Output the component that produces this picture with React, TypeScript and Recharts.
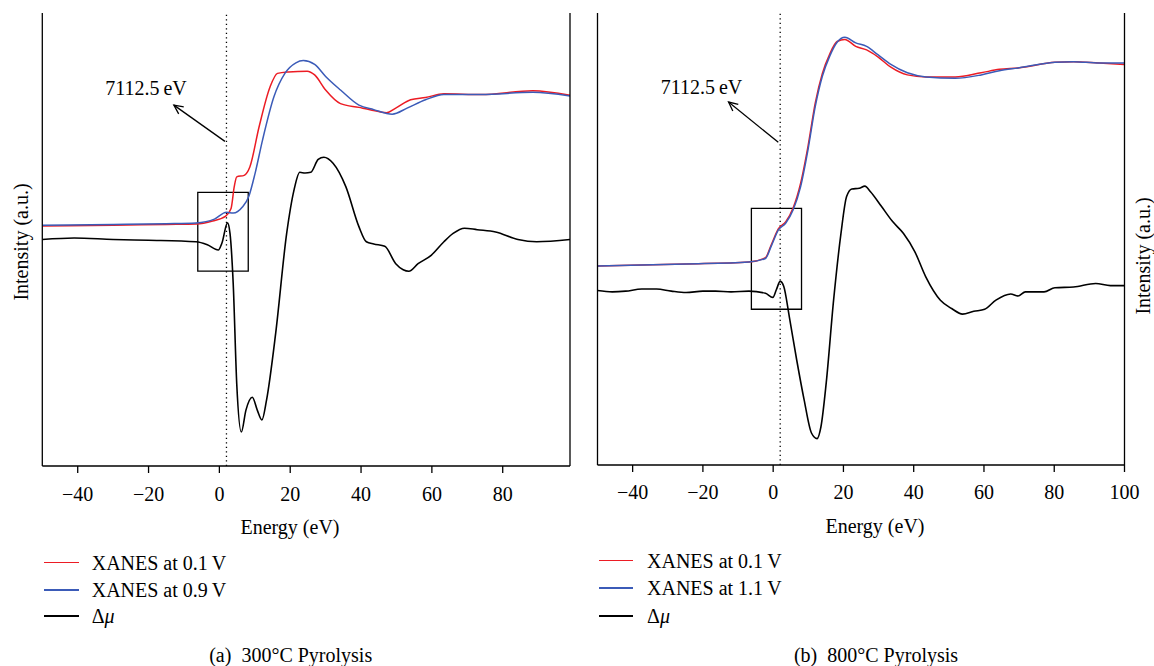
import React from "react"
import { LineChart, Line, XAxis, YAxis, ReferenceLine, ReferenceArea } from "recharts"

// (a) 300 °C pyrolysis
const aRedE = [-50, -30, -15, -6.6, -1.9, 1.8, 3.3, 4.2, 4.9, 7, 8.6, 11.2, 14.3, 16.4, 19.5, 24.8, 26.9, 30, 34.2, 39.4, 42.5, 47.2, 49.8, 54, 58.2, 63.4, 73.9, 88.5, 99]
const aRed = [3.18, 3.19, 3.2, 3.205, 3.245, 3.31, 3.41, 3.7, 3.83, 3.85, 3.96, 4.49, 5.02, 5.2, 5.22, 5.23, 5.18, 4.98, 4.8, 4.75, 4.72, 4.68, 4.74, 4.85, 4.88, 4.93, 4.92, 4.97, 4.91]
const aBlueE = [-50, -30, -15, -6.6, -1.4, 2, 3.9, 6.5, 8.3, 10.1, 12.2, 15.4, 18.5, 21.6, 23.7, 26.9, 30, 34.2, 39.4, 43.6, 48.8, 53, 58.2, 63.4, 73.9, 88.5, 99]
const aBlue = [3.19, 3.2, 3.21, 3.22, 3.27, 3.36, 3.35, 3.43, 3.57, 3.88, 4.32, 4.89, 5.2, 5.34, 5.37, 5.32, 5.16, 4.98, 4.78, 4.72, 4.66, 4.74, 4.85, 4.92, 4.92, 4.95, 4.9]
const aDiffE = [-50, -41, -30, -20, -6.6, -3.4, -0.3, 0.7, 2.3, 3, 3.9, 4.9, 6.2, 7.5, 9.3, 10.7, 12, 13.3, 15.9, 19, 21.1, 22.7, 24.2, 25.8, 27.9, 29.5, 32.1, 35.7, 39.4, 41.5, 43.6, 46.7, 49.8, 51.9, 53.5, 56.1, 59.8, 63.4, 66, 69.2, 72.8, 78, 84.3, 89.6, 99]
const aDiff = [3.0, 3.02, 3.0, 2.99, 2.97, 2.93, 2.86, 2.95, 3.22, 3.08, 2.42, 1.09, 0.45, 0.74, 0.91, 0.74, 0.61, 0.87, 1.76, 3.08, 3.66, 3.89, 3.88, 3.89, 4.06, 4.09, 4.01, 3.7, 3.17, 2.97, 2.94, 2.91, 2.68, 2.6, 2.58, 2.68, 2.79, 2.97, 3.08, 3.15, 3.13, 3.1, 3.0, 2.97, 3.0]

// (b) 800 °C pyrolysis
const bXanesE = [-50, -24.8, -6.9, -2.2, -0.6, 1.5, 3.6, 5.7, 7.8, 9.9, 12, 14, 16.1, 18.2, 20.4, 23.5, 26.6, 29.8, 33.5, 38.2, 43.5, 51.8, 59.2, 64.4, 69.7, 80.2, 85.5, 92.8, 100]
const bRed = [2.86, 2.89, 2.92, 2.98, 3.16, 3.4, 3.5, 3.7, 4.05, 4.58, 5.21, 5.63, 5.91, 6.09, 6.12, 6.02, 5.97, 5.87, 5.72, 5.61, 5.58, 5.58, 5.64, 5.69, 5.71, 5.79, 5.8, 5.78, 5.76]
const bBlue = [2.86, 2.89, 2.92, 2.97, 3.14, 3.38, 3.48, 3.67, 4.0, 4.53, 5.16, 5.59, 5.88, 6.08, 6.15, 6.07, 6.02, 5.9, 5.76, 5.64, 5.58, 5.56, 5.61, 5.67, 5.71, 5.79, 5.8, 5.78, 5.78]
const bDiffE = [-50, -45.8, -42, -37.4, -33.2, -29, -24.8, -20, -16.4, -12, -6.9, -2.2, -0.1, 0.9, 2, 3, 4.6, 6.7, 8.8, 10.9, 12.5, 13.6, 15.1, 17.2, 19.3, 20.9, 22.4, 24.5, 26.1, 27.7, 30.8, 34, 37.1, 40.3, 43.4, 47.6, 50.8, 53.9, 57.1, 60.2, 63.4, 67.6, 69.7, 71.8, 77.1, 80.2, 85.5, 91.8, 96, 100]
const bDiff = [2.51, 2.49, 2.5, 2.53, 2.53, 2.5, 2.48, 2.5, 2.5, 2.49, 2.5, 2.47, 2.41, 2.52, 2.64, 2.57, 2.13, 1.51, 0.94, 0.46, 0.38, 0.55, 1.18, 2.37, 3.33, 3.86, 3.97, 3.98, 4.01, 3.93, 3.72, 3.5, 3.33, 3.07, 2.71, 2.37, 2.25, 2.17, 2.21, 2.24, 2.37, 2.46, 2.43, 2.49, 2.49, 2.55, 2.56, 2.61, 2.58, 2.58]

const xTicksA = [-40, -20, 0, 20, 40, 60, 80]
const xTicksB = [-40, -20, 0, 20, 40, 60, 80, 100]
const yTicksA = [1, 2, 3, 4, 5]
const yTicksB = [0.5, 1.5, 2.5, 3.5, 4.5, 5.5]

const RED = "#ec1c24"
const BLUE = "#3b5bb8"
const FONT = '"Liberation Serif", "DejaVu Serif", serif'

const zip = (xs: number[], ys: number[]) => xs.map((x, i) => ({ x, y: ys[i] }))
const fmt = (v: number) => (v < 0 ? `\u2212${Math.abs(v)}` : `${v}`)

const Arrow = (p: any) => {
  const { x1, y1, x2, y2 } = p
  const a = Math.atan2(y2 - y1, x2 - x1)
  const L = 10
  const h1 = [x2 - L * Math.cos(a - 0.45), y2 - L * Math.sin(a - 0.45)]
  const h2 = [x2 - L * Math.cos(a + 0.45), y2 - L * Math.sin(a + 0.45)]
  return (
    <g stroke="#000" strokeWidth={1.3} fill="none">
      <line x1={x1} y1={y1} x2={x2} y2={y2} />
      <polyline points={`${h1[0]},${h1[1]} ${x2},${y2} ${h2[0]},${h2[1]}`} />
    </g>
  )
}

type PanelProps = {
  left: number
  width: number
  margin: { top: number; right: number; bottom: number; left: number }
  xDomain: [number, number]
  xTicks: number[]
  yDomain: [number, number]
  yTicks: number[]
  tickMargin: number
  red: { x: number; y: number }[]
  blue: { x: number; y: number }[]
  diff: { x: number; y: number }[]
  box: [number, number, number, number]
  arrow: [number, number, number, number]
}

function Panel(p: PanelProps) {
  const tickStyle = { fontFamily: FONT, fontSize: 20, fill: "#000" }
  return (
    <div style={{ position: "absolute", left: p.left, top: 0 }}>
      <LineChart width={p.width} height={520} margin={p.margin}>
        <XAxis type="number" dataKey="x" domain={p.xDomain} ticks={p.xTicks} allowDataOverflow
          tickFormatter={fmt} tick={tickStyle} tickSize={7} tickMargin={p.tickMargin} height={40}
          stroke="#000" axisLine={{ stroke: "#000", strokeWidth: 1.3 }} tickLine={{ stroke: "#000", strokeWidth: 1.3 }} />
        <XAxis xAxisId="top" orientation="top" type="number" domain={p.xDomain} allowDataOverflow height={0}
          tick={false} tickLine={false} axisLine={{ stroke: "#000", strokeWidth: 1.3 }} />
        <YAxis type="number" domain={p.yDomain} ticks={p.yTicks} allowDataOverflow mirror tick={false} tickSize={7}
          axisLine={{ stroke: "#000", strokeWidth: 1.3 }} tickLine={{ stroke: "#000", strokeWidth: 1.3 }} />
        <YAxis yAxisId="r" orientation="right" type="number" domain={p.yDomain} ticks={p.yTicks} allowDataOverflow mirror
          tick={false} tickSize={7} axisLine={{ stroke: "#000", strokeWidth: 1.3 }} tickLine={{ stroke: "#000", strokeWidth: 1.3 }} />
        <ReferenceLine x={2} stroke="#000" strokeWidth={1.3} strokeDasharray="1.3 3.2" />
        <ReferenceArea x1={p.box[0]} x2={p.box[1]} y1={p.box[2]} y2={p.box[3]} fill="none" fillOpacity={0} stroke="#000" strokeWidth={1.3} />
        <ReferenceLine segment={[{ x: p.arrow[0], y: p.arrow[1] }, { x: p.arrow[2], y: p.arrow[3] }]} shape={Arrow} />
        <Line data={p.diff} dataKey="y" type="monotone" stroke="#000" strokeWidth={1.6} dot={false} isAnimationActive={false} />
        <Line data={p.red} dataKey="y" type="monotone" stroke={RED} strokeWidth={1.5} dot={false} isAnimationActive={false} />
        <Line data={p.blue} dataKey="y" type="monotone" stroke={BLUE} strokeWidth={1.5} dot={false} isAnimationActive={false} />
      </LineChart>
    </div>
  )
}

const Txt = ({ x, y, children, rotate }: { x: number; y: number; children: React.ReactNode; rotate?: boolean }) => (
  <div style={{ position: "absolute", left: x, top: y, transform: `translate(-50%, -50%)${rotate ? " rotate(-90deg)" : ""}`,
    whiteSpace: "nowrap", lineHeight: 1, fontFamily: FONT, fontSize: 20, color: "#000" }}>
    {children}
  </div>
)

const Legend = ({ x0, x1, tx, rows, labels }: { x0: number; x1: number; tx: number; rows: number[]; labels: React.ReactNode[] }) => {
  const colors = [RED, BLUE, "#000"]
  return (
    <>
      {labels.map((l, i) => (
        <React.Fragment key={i}>
          <div style={{ position: "absolute", left: x0, top: rows[i] - 1, width: x1 - x0, height: 1.6, background: colors[i] }} />
          <div style={{ position: "absolute", left: tx, top: rows[i], transform: "translateY(-50%)", whiteSpace: "nowrap",
            lineHeight: 1, fontFamily: FONT, fontSize: 20, color: "#000" }}>{l}</div>
        </React.Fragment>
      ))}
    </>
  )
}

const mu = <span>Δ<i>μ</i></span>

export default function App() {
  return (
    <div style={{ position: "absolute", left: 0, top: 0, width: 1154, height: 666, background: "#fff", overflow: "hidden" }}>
      <Panel left={0} width={580} margin={{ top: 13, right: 10, bottom: 14, left: 42.3 }}
        xDomain={[-50, 99]} xTicks={xTicksA} yDomain={[0, 6]} yTicks={yTicksA} tickMargin={14}
        red={zip(aRedE, aRed)} blue={zip(aBlueE, aBlue)} diff={zip(aDiffE, aDiff)}
        box={[-6.1, 8.15, 2.58, 3.625]} arrow={[1.57, 4.3, -12.85, 4.78]} />
      <Panel left={555} width={590} margin={{ top: 13, right: 20.5, bottom: 15, left: 42.5 }}
        xDomain={[-50, 100]} xTicks={xTicksB} yDomain={[0, 6.5]} yTicks={yTicksB} tickMargin={13}
        red={zip(bXanesE, bRed)} blue={zip(bXanesE, bBlue)} diff={zip(bDiffE, bDiff)}
        box={[-6.2, 8.07, 2.24, 3.69]} arrow={[1.46, 4.64, -12.7, 5.22]} />

      <Txt x={146} y={88}>7112.5{"\u2009"}eV</Txt>
      <Txt x={701.5} y={87}>7112.5{"\u2009"}eV</Txt>

      <Txt x={21} y={242} rotate>Intensity (a.u.)</Txt>
      <Txt x={1142.5} y={256} rotate>Intensity (a.u.)</Txt>

      <Txt x={290} y={527}>Energy (eV)</Txt>
      <Txt x={875} y={526}>Energy (eV)</Txt>

      <Legend x0={44.4} x1={78.8} tx={91.7} rows={[562.7, 590, 616]}
        labels={[<>XANES at 0.1{"\u2009"}V</>, <>XANES at 0.9{"\u2009"}V</>, mu]} />
      <Legend x0={599} x1={633.3} tx={647} rows={[560.7, 588.3, 616]}
        labels={[<>XANES at 0.1{"\u2009"}V</>, <>XANES at 1.1{"\u2009"}V</>, mu]} />

      <Txt x={290.7} y={655}>(a)&nbsp; 300°C Pyrolysis</Txt>
      <Txt x={876} y={655}>(b)&nbsp; 800°C Pyrolysis</Txt>
    </div>
  )
}
